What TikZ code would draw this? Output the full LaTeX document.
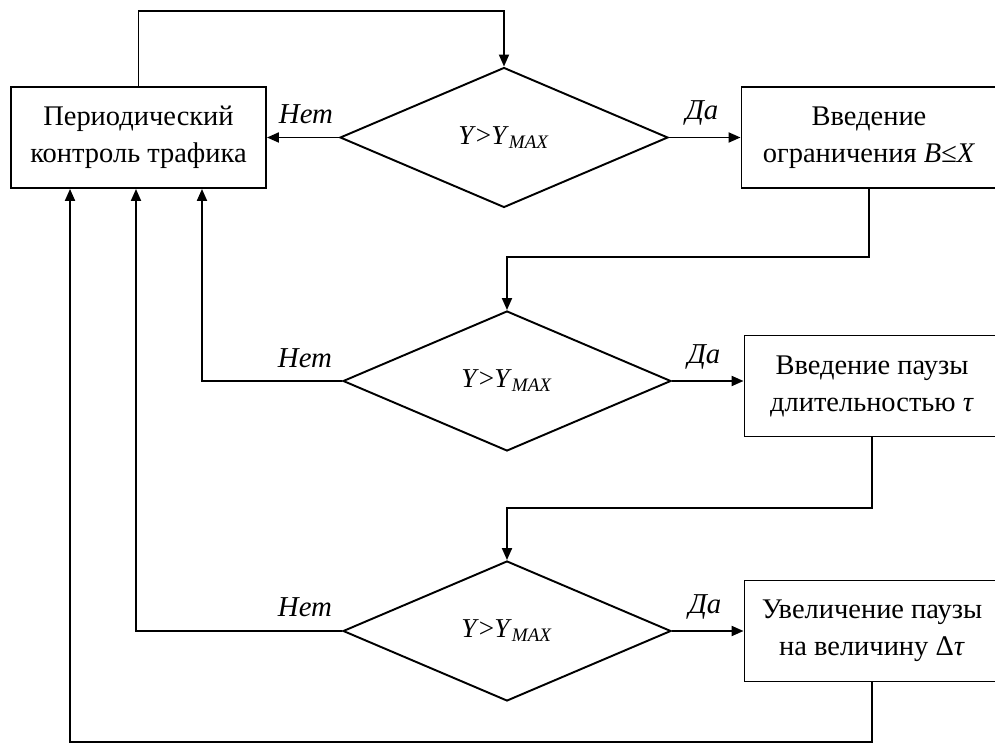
\documentclass[tikz,border=0pt]{standalone}
\usepackage{fontspec}
\setmainfont{Liberation Serif}
\usetikzlibrary{shapes.geometric,arrows.meta}

% condition printed in every decision diamond
\newcommand\condtext{\textit{Y}>\textit{Y}\textsubscript{\textit{MAX}}}

\begin{document}
\begin{tikzpicture}[x=0.02cm,y=-0.02cm,
  every node/.style={font=\fontsize{16.2}{21}\selectfont},
  block/.style={draw, line width=1.1pt, minimum width=5.1cm, minimum height=2.02cm,
    align=center, inner sep=0pt},
  decision/.style={draw, diamond, line width=1.1pt, minimum width=6.56cm,
    minimum height=2.8cm, inner sep=0pt, font=\fontsize{15.5}{18}\selectfont},
  link/.style={line width=1.1pt},
  arr/.style={link, -{Triangle[length=2.4mm,width=2mm]}},
  answer/.style={font=\itshape\fontsize{16.4}{18}\selectfont, inner sep=0pt}]

\useasboundingbox (0,0) rectangle (995,743);

% blocks and decisions
\node[block] (ctrl) at (138.5,137.5) {Периодический\\контроль трафика};
\node[decision] (d1) at (504,137.5) {\condtext};
\node[block] (lim) at (869,137.5) {Введение\\ограничения \textit{B≤X}};
\node[decision] (d2) at (507,381) {\condtext};
\node[block] (pause) at (872,386) {Введение паузы\\длительностью \textit{τ}};
\node[decision] (d3) at (507,631) {\condtext};
\node[block] (inc) at (872,631) {Увеличение паузы\\на величину Δ\textit{τ}};

% entry points on the lower side of the control block
\coordinate (in2) at ([xshift=1.27cm]ctrl.south);
\coordinate (in3) at ([xshift=-0.05cm]ctrl.south);
\coordinate (in4) at ([xshift=-1.37cm]ctrl.south);

% main flow
\draw[arr] (ctrl.north) -- ++(0,-75) -| (d1.north);
\draw[arr] (d1.west) -- (ctrl.east);
\draw[arr] (d1.east) -- (lim.west);
\draw[arr] (lim.south) -- ++(0,68) -| (d2.north);
\draw[arr] (d2.east) -- (d2.east -| pause.west);
\draw[arr] (pause.south) -- ++(0,71) -| (d3.north);
\draw[arr] (d3.east) -- (inc.west);

% returns to traffic control
\draw[arr] (d2.west) -| (in2);
\draw[arr] (d3.west) -| (in3);
\draw[arr] (inc.south) -- ++(0,60) -| (in4);

% branch labels
\node[answer] (no1) at (306,114) {Нет};
\node[answer] (yes1) at (702,113) {Да};
\node[answer] (no2) at (305,358) {Нет};
\node[answer] (yes2) at (704,357) {Да};
\node[answer] (no3) at (305,607) {Нет};
\node[answer] (yes3) at (705,607) {Да};
\end{tikzpicture}
\end{document}
